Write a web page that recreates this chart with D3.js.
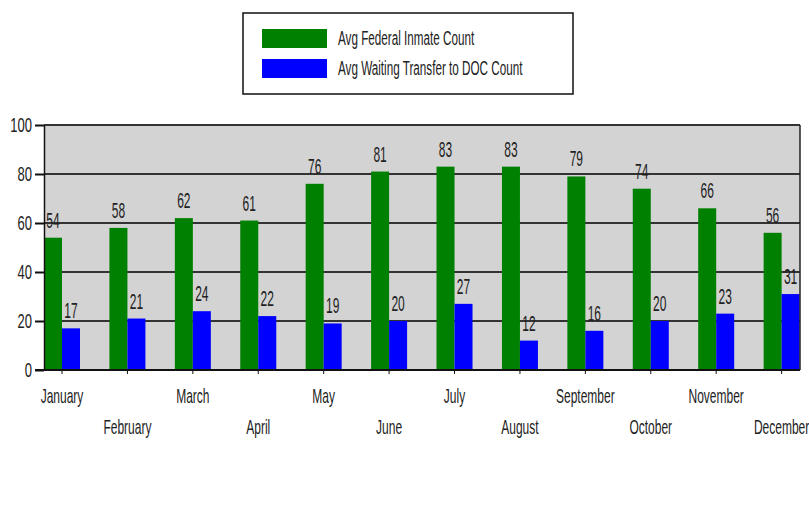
<!DOCTYPE html>
<html lang="en">
<head>
    <meta charset="UTF-8">
    <title>Avg Federal Inmate Count by Month</title>
    <script src="https://d3js.org/d3.v7.min.js"></script>
    <style>
        body { margin: 0; background: #fff; }
        text { font-family: "Liberation Sans", Arial, sans-serif; fill: #222; }
    </style>
</head>
<body>
    <svg width="809" height="517"></svg>
    <script>
        // Data
        const months = ["January", "February", "March", "April", "May", "June",
                        "July", "August", "September", "October", "November", "December"];
        const seriesNames = ["Avg Federal Inmate Count", "Avg Waiting Transfer to DOC Count"];
        const federal = [54, 58, 62, 61, 76, 81, 83, 83, 79, 74, 66, 56];
        const waiting = [17, 21, 24, 22, 19, 20, 27, 12, 16, 20, 23, 31];
        const yTicks = [0, 20, 40, 60, 80, 100];
        const colors = ["#008000", "#0000ff"];

        const svg = d3.select("svg");

        // Plot area
        const plotLeft = 44, plotRight = 800, plotTop = 125, plotBottom = 370;
        const pitch = 65.42;

        const x0 = d3.scaleBand()
            .domain(months)
            .range([plotLeft, plotLeft + pitch * months.length])
            .padding(0);
        const x1 = d3.scaleBand()
            .domain(seriesNames)
            .range([0, 36])
            .padding(0);
        const y = d3.scaleLinear()
            .domain([0, 100])
            .range([plotBottom, plotTop]);

        const rows = months.map((m, i) => ({ month: m, values: [federal[i], waiting[i]] }));

        // Background
        svg.append("rect")
            .attr("x", plotLeft).attr("y", plotTop)
            .attr("width", plotRight - plotLeft).attr("height", plotBottom - plotTop)
            .attr("fill", "#d3d3d3");

        // Grid lines
        svg.append("g")
            .selectAll("line")
            .data(yTicks.filter(d => d > 0))
            .enter()
            .append("line")
            .attr("x1", plotLeft).attr("x2", plotRight)
            .attr("y1", d => y(d)).attr("y2", d => y(d))
            .attr("stroke", "#333")
            .attr("stroke-width", 2);

        // Bars
        const groups = svg.append("g")
            .selectAll("g")
            .data(rows)
            .enter()
            .append("g")
            .attr("transform", d => `translate(${x0(d.month)},0)`);

        groups.selectAll("rect")
            .data(d => d.values.map((v, k) => ({ key: seriesNames[k], value: v, k: k })))
            .enter()
            .append("rect")
            .attr("x", d => x1(d.key))
            .attr("y", d => y(d.value))
            .attr("width", x1.bandwidth())
            .attr("height", d => y(0) - y(d.value))
            .attr("fill", d => colors[d.k]);

        // Value labels (stretched vertically like the original)
        groups.selectAll("text")
            .data(d => d.values.map((v, k) => ({ key: seriesNames[k], value: v })))
            .enter()
            .append("text")
            .attr("text-anchor", "middle")
            .attr("font-size", 12)
            .attr("transform", d => `translate(${x1(d.key) + x1.bandwidth() / 2},${y(d.value) - 10}) scale(1,1.9)`)
            .text(d => d.value);

        // Right border
        svg.append("line")
            .attr("x1", plotRight).attr("x2", plotRight)
            .attr("y1", plotTop).attr("y2", plotBottom)
            .attr("stroke", "#222").attr("stroke-width", 1.5);

        // Y axis
        const yAxis = d3.axisLeft(y).tickValues(yTicks).tickSize(9).tickSizeOuter(0);
        const gy = svg.append("g")
            .attr("transform", `translate(${plotLeft},0)`)
            .call(yAxis);
        gy.select(".domain").attr("stroke", "#111").attr("stroke-width", 1.5);
        gy.selectAll(".tick line").attr("stroke", "#111").attr("stroke-width", 2);
        gy.selectAll(".tick text")
            .attr("x", -12)
            .attr("font-size", 13)
            .attr("font-family", "'Liberation Sans', Arial, sans-serif")
            .attr("fill", "#222")
            .attr("transform", "scale(1,1.5)");

        // X axis: ticks sit between the two bars of each month
        const xAxis = d3.axisBottom(x0).tickSize(4).tickSizeOuter(0);
        const gx = svg.append("g")
            .attr("transform", `translate(${x1.bandwidth() - x0.bandwidth() / 2},${plotBottom})`)
            .call(xAxis);
        gx.select(".domain").remove();
        gx.selectAll(".tick line").attr("stroke", "#111");
        gx.selectAll(".tick text")
            .attr("y", 0).attr("dy", 0)
            .attr("font-size", 12)
            .attr("font-family", "'Liberation Sans', Arial, sans-serif")
            .attr("fill", "#222")
            .attr("transform", (d, i) => `translate(0,${i % 2 === 0 ? 33 : 64}) scale(1,1.65)`);

        svg.append("line")
            .attr("x1", 35).attr("x2", plotRight)
            .attr("y1", plotBottom).attr("y2", plotBottom)
            .attr("stroke", "#111").attr("stroke-width", 2);

        // Legend
        const legend = svg.append("g");
        legend.append("rect")
            .attr("x", 243).attr("y", 13)
            .attr("width", 330).attr("height", 81)
            .attr("fill", "#fff")
            .attr("stroke", "#111").attr("stroke-width", 1.5);
        seriesNames.forEach((name, k) => {
            legend.append("rect")
                .attr("x", 262).attr("y", 29 + k * 30)
                .attr("width", 65).attr("height", 19)
                .attr("fill", colors[k]);
            legend.append("text")
                .attr("font-size", 11.7)
                .attr("transform", `translate(338,${45 + k * 30}) scale(1,1.8)`)
                .text(name);
        });
    </script>
</body>
</html>
